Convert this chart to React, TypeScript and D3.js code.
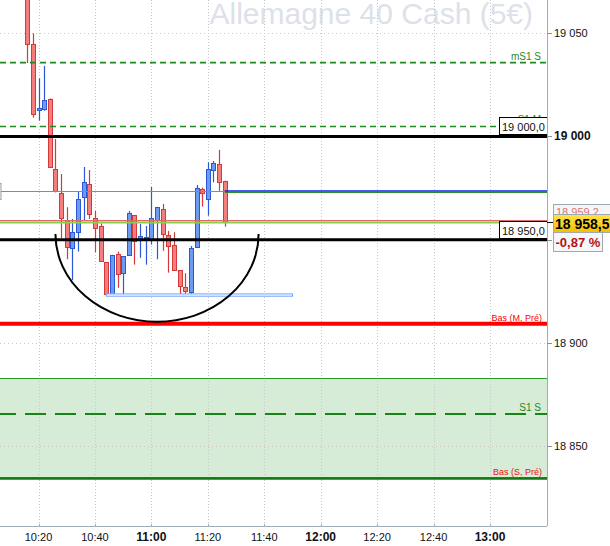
import React from 'react';
import * as d3 from 'd3';

const W = 610;
const H = 546;

// ---- data ----
const candleTimes = ['10:16','10:18','10:20','10:22','10:24','10:26','10:28','10:30','10:32','10:34','10:36','10:38','10:40','10:42','10:44','10:46','10:48','10:50','10:52','10:54','10:56','10:58','11:00','11:02','11:04','11:06','11:08','11:10','11:12','11:14','11:16','11:18','11:20','11:22','11:24','11:26'];
const opens = [19075,19045,19012.7,19013.5,19018.2,18984.1,18972.5,18959.5,18945.8,18953.6,18970.5,18976.8,18960.3,18956.6,18939,18923.5,18942.9,18933.7,18942.4,18961.8,18950.7,18950.7,18950.5,18959.5,18964.9,18952.1,18947.3,18935.1,18926.9,18924.5,18946.3,18974.4,18969.8,18983.6,18986.7,18978.4];
const highs = [19080,19050,19028.2,19034.2,19018.5,18998.8,18981.8,18965.7,18960,18973.2,18985.2,18983.8,18963.9,18957.9,18939.2,18942.6,18944.2,18942,18963.9,18962,18957.6,18956.6,18975.5,18965.9,18967.3,18954.2,18953.6,18935.3,18933.7,18946.9,18976.5,18975.2,18987.5,18988.1,18993.5,18978.6];
const lows = [19035.6,19009.1,19007.7,19012.5,18985.2,18972.9,18950.7,18940.5,18930.4,18944.2,18959.5,18960,18943.9,18939.3,18923.3,18923.3,18926.7,18922.8,18942.2,18937.9,18941.2,18937.9,18947.6,18940.5,18944.6,18934,18934.9,18923,18923,18923.5,18946.1,18966,18961.6,18977.8,18973.7,18956.3];
const closes = [19044.7,19010.8,19014,19017.7,18985.4,18973.6,18960.3,18946.6,18953.6,18969.7,18977.9,18962.3,18955.8,18939.5,18923.5,18942.4,18933.2,18941.9,18962.8,18949.2,18951.8,18951.1,18960.3,18965.7,18952.6,18946.8,18935.4,18927.4,18925,18945.8,18974.9,18972.5,18984.1,18987,18977.8,18958.5];

const gridPrices = [19050, 19000, 18950, 18900, 18850];
const axisPrices = [19050, 19000, 18900, 18850];
const axisPriceLabels = ['19 050', '19 000', '18 900', '18 850'];
const boldPrices = [19000];
const timeTicks = ['10:20','10:40','11:00','11:20','11:40','12:00','12:20','12:40','13:00'];
const boldTimes = ['11:00','12:00','13:00'];

const blackLevels = [19000, 18950];
const blackLevelLabels = ['19 000,0', '18 950,0'];
const dashedLevels = [19035.8, 19004.8];
const dashedLabels = ['mS1 S', 'S1 M'];
const s1sLevel = [18865.5];
const s1sLabel = ['S1 S'];
const basLevels = [18909.2, 18834.8];
const basLabels = ['Bas (M, Pré)', 'Bas (S, Pré)'];
const zoneLevels = [18882.8, 18834.2];
const pivotLevel = [18973.6];
const pivotTimes = ['11:26'];
const closeLevels = [18959.2, 18958.5];
const closeLabels = ['18 959,2', '18 958,5'];
const changeLabel = ['-0,87 %'];
const cupTimes = ['10:26', '11:38'];
const cupPrices = [18952.7, 18910.2];
const boxTimes = ['10:44', '11:50'];
const boxPrices = [18923.7, 18922.6];
const title = 'Allemagne 40 Cash (5€)';

const FONT = '"Liberation Sans", Arial, Helvetica, sans-serif';

export default function App() {
  const parse = d3.timeParse('%H:%M');
  const x = d3.scaleTime().domain([parse('10:20')!, parse('13:00')!]).range([38.5, 490]);
  const y = d3.scaleLinear().domain([18850, 19050]).range([446, 33.3]);
  const plotR = 547;
  const axisY = 526;
  const cr = (v: number) => Math.round(v) + 0.5;
  const xt = (s: string) => x(parse(s)!);

  const red = '#d23a3a';
  const redFill = '#f47e7e';
  const blue = '#2a58d6';
  const blueFill = '#6c9cf2';

  const vTicks = d3.timeMinute.every(20)!.range(parse('10:20')!, parse('13:01')!);

  const cupX0 = xt(cupTimes[0]);
  const cupX1 = xt(cupTimes[1]);
  const cupY0 = y(cupPrices[0]);
  const cupY1 = y(cupPrices[1]);
  const rx = (cupX1 - cupX0) / 2;
  const ry = cupY1 - cupY0;

  const lastX = xt(pivotTimes[0]);

  return (
    <div style={{ position: 'absolute', left: 0, top: 0 }}>
      <svg width={W} height={H} style={{ display: 'block', fontFamily: FONT }}>
        <defs>
          <linearGradient id="yel" x1="0" y1="0" x2="0" y2="1">
            <stop offset="0" stopColor="#ffe24a" />
            <stop offset="1" stopColor="#f5be00" />
          </linearGradient>
          <clipPath id="plot">
            <rect x={0} y={0} width={plotR} height={axisY} />
          </clipPath>
        </defs>
        <rect x={0} y={0} width={W} height={H} fill="#ffffff" />
        {/* title */}
        <text x={533} y={24} fontSize={30} fill="#dde1ea" textAnchor="end">{title}</text>

        <g clipPath="url(#plot)">
          {/* zone */}
          <rect x={0} y={y(zoneLevels[0])} width={plotR} height={y(zoneLevels[1]) - y(zoneLevels[0])} fill="#d7ecd7" />

          {/* grid */}
          {vTicks.map((t, i) => (
            <line key={'vg' + i} x1={cr(x(t))} x2={cr(x(t))} y1={0} y2={axisY} stroke="#c8c8c8" strokeDasharray="1,2" />
          ))}
          {gridPrices.map((p, i) => (
            <line key={'hg' + i} x1={0} x2={plotR} y1={cr(y(p))} y2={cr(y(p))} stroke="#c8c8c8" strokeDasharray="1,3" />
          ))}

          {/* candles */}
          {candleTimes.map((t, i) => {
            const cx = Math.round(xt(t));
            const up = closes[i] >= opens[i];
            const top = y(Math.max(opens[i], closes[i]));
            const bot = y(Math.min(opens[i], closes[i]));
            const c = up ? blue : red;
            const f = up ? blueFill : redFill;
            return (
              <g key={'c' + i}>
                <line x1={cx + 0.5} x2={cx + 0.5} y1={y(highs[i])} y2={y(lows[i])} stroke={c} strokeWidth={1.2} />
                <rect x={cx - 1.5} y={Math.round(top) + 0.5} width={4} height={Math.max(1, Math.round(bot) - Math.round(top))} fill={f} stroke={c} strokeWidth={1} />
              </g>
            );
          })}

          {/* dashed pivot levels */}
          {dashedLevels.map((p, i) => (
            <line key={'dl' + i} x1={0} x2={plotR} y1={y(p)} y2={y(p)} stroke="#1f8a1f" strokeWidth={1.6} strokeDasharray="6,4" />
          ))}
          {/* zone top */}
          <line x1={0} x2={plotR} y1={cr(y(zoneLevels[0]))} y2={cr(y(zoneLevels[0]))} stroke="#2a9a2a" strokeWidth={1} />
          {/* S1 S */}
          <line x1={0} x2={plotR} y1={y(s1sLevel[0])} y2={y(s1sLevel[0])} stroke="#178417" strokeWidth={2} strokeDasharray="21,9" strokeDashoffset={5} />
          {/* bottom zone green */}
          <line x1={0} x2={plotR} y1={y(zoneLevels[1])} y2={y(zoneLevels[1])} stroke="#137a13" strokeWidth={2.5} />
          {/* Bas lines */}
          <line x1={0} x2={plotR} y1={y(basLevels[0])} y2={y(basLevels[0])} stroke="#ff0000" strokeWidth={4} />
          <line x1={0} x2={plotR} y1={cr(y(basLevels[1]))} y2={cr(y(basLevels[1]))} stroke="#e02020" strokeWidth={1} />

          {/* black levels */}
          {blackLevels.map((p, i) => (
            <line key={'bl' + i} x1={0} x2={plotR} y1={y(p)} y2={y(p)} stroke="#000000" strokeWidth={3} />
          ))}

          {/* pivot (gray then blue/green) */}
          <line x1={0} x2={lastX} y1={cr(y(pivotLevel[0]))} y2={cr(y(pivotLevel[0]))} stroke="#8a8a8a" strokeWidth={1} />
          <line x1={lastX} x2={plotR} y1={cr(y(pivotLevel[0])) - 0.5} y2={cr(y(pivotLevel[0])) - 0.5} stroke="#0a1ee6" strokeWidth={1.5} />
          <line x1={lastX} x2={plotR} y1={cr(y(pivotLevel[0])) + 1} y2={cr(y(pivotLevel[0])) + 1} stroke="#2e8b2e" strokeWidth={1} />
          <rect x={-10} y={183.5} width={11} height={16} fill="#eef0f2" stroke="#98a2ac" />

          {/* close levels */}
          <line x1={0} x2={plotR} y1={y(closeLevels[0])} y2={y(closeLevels[0])} stroke="#e06a6a" strokeWidth={1.5} />
          <line x1={0} x2={plotR} y1={y(closeLevels[1]) + 0.6} y2={y(closeLevels[1]) + 0.6} stroke="#8ccf4e" strokeWidth={1.5} />

          {/* annotations */}
          <rect x={xt(boxTimes[0])} y={y(boxPrices[0])} width={xt(boxTimes[1]) - xt(boxTimes[0])} height={y(boxPrices[1]) - y(boxPrices[0])} fill="#ffffff" stroke="#6fa0ff" strokeWidth={1} />
          <path d={`M${cupX0},${cupY0} A${rx},${ry} 0 0 0 ${cupX1},${cupY0}`} fill="none" stroke="#000000" strokeWidth={2} />

          {/* level labels */}
          <text x={541} y={y(dashedLevels[0]) - 3} fontSize={10} fill="#1f8a1f" textAnchor="end">{dashedLabels[0]}</text>
          <text x={541} y={y(dashedLevels[1]) - 3.5} fontSize={10} fill="#1f8a1f" textAnchor="end">{dashedLabels[1]}</text>
          <text x={541} y={y(s1sLevel[0]) - 3} fontSize={10} fill="#1f8a1f" textAnchor="end">{s1sLabel[0]}</text>
          <text x={542} y={y(basLevels[0]) - 2.5} fontSize={9} fill="#ff0000" textAnchor="end">{basLabels[0]}</text>
          <text x={542} y={y(basLevels[1]) - 2} fontSize={9} fill="#ee1010" textAnchor="end">{basLabels[1]}</text>

          {blackLevels.map((p, i) => (
            <g key={'bx' + i}>
              <rect x={499.5} y={Math.round(y(p)) - 18.5} width={48} height={17} fill="#ffffff" stroke="#000000" strokeWidth={1} />
              <text x={502} y={Math.round(y(p)) - 5.5} fontSize={11} fill="#111">{blackLevelLabels[i]}</text>
            </g>
          ))}
        </g>

        {/* axes */}
        <line x1={plotR + 0.5} x2={plotR + 0.5} y1={0} y2={axisY} stroke="#a3abb4" strokeWidth={1} />
        <line x1={0} x2={plotR} y1={axisY + 0.5} y2={axisY + 0.5} stroke="#a3abb4" strokeWidth={1} />
        {gridPrices.map((p, i) => (
          <line key={'ytk' + i} x1={plotR} x2={plotR + 5} y1={cr(y(p))} y2={cr(y(p))} stroke="#8a939c" />
        ))}
        {axisPrices.map((p, i) => {
          const b = boldPrices.includes(p);
          return (
            <text key={'yt' + i} x={554} y={y(p) + 4} fontSize={b ? 12 : 11} fontWeight={b ? 'bold' : 'normal'} fill="#111">{axisPriceLabels[i]}</text>
          );
        })}
        {timeTicks.map((t, i) => {
          const b = boldTimes.includes(t);
          const xx = xt(t);
          return (
            <g key={'xt' + i}>
              <line x1={cr(xx)} x2={cr(xx)} y1={axisY - 2} y2={axisY} stroke="#a3abb4" />
              <text x={xx} y={541} fontSize={b ? 12 : 11} fontWeight={b ? 'bold' : 'normal'} fill="#111" textAnchor="middle">{t}</text>
            </g>
          );
        })}

        {/* right price boxes */}
        <line x1={plotR} x2={553} y1={cr(y(closeLevels[1]))} y2={cr(y(closeLevels[1]))} stroke="#000" />
        <rect x={553.5} y={204.5} width={60} height={18} fill="#f4f6f8" stroke="#a0a8b0" />
        <text x={556} y={216} fontSize={11} fill="#e07070">{closeLabels[0]}</text>
        <rect x={553.5} y={214.5} width={60} height={18} fill="url(#yel)" stroke="#a0a8b0" />
        <text x={555} y={229} fontSize={14} fontWeight="bold" fill="#000">{closeLabels[1]}</text>
        <rect x={553.5} y={232.5} width={49} height={19} fill="#f6f7f9" stroke="#a0a8b0" />
        <text x={555.5} y={247} fontSize={13} fontWeight="bold" fill="#b31212">{changeLabel[0]}</text>
      </svg>
    </div>
  );
}
